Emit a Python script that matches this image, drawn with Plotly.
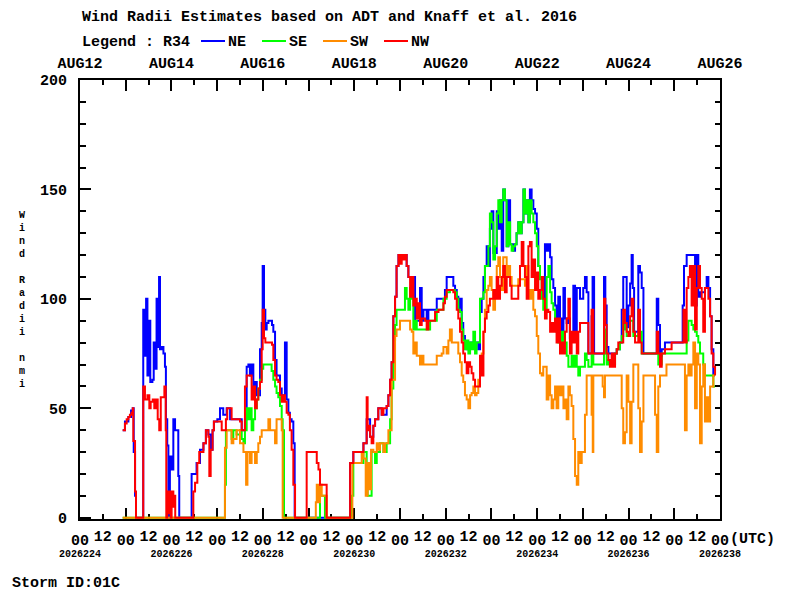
import plotly.graph_objects as go

# R34 wind radii (nmi), hours after 2026-08-12 00 UTC
NE = [(22.4,40),(23.6,44),(25.4,46),(26.8,49),(27.7,50),(28.2,30),(28.9,10),(29.4,0),
      (33.2,95),(34.0,74),(34.7,100),(35.4,65),(36.2,90),(36.9,62),(38.0,63),(38.7,80),(39.4,68),
      (40.2,100),(41.0,78),(41.5,110),(42.0,77),(42.9,78),(43.8,75),(44.6,69),(45.1,45),(45.8,33),
      (46.4,0),(47.2,28),(48.1,22),(49.0,45),(49.9,40),(51.6,19),(52.1,0),
      (58.6,20),(61.2,25),(63.0,31),(64.8,34),(66.1,40),(67.4,38),(68.6,31),(69.6,40),(70.3,44),
      (72.1,45),(73.5,50),(75.2,47),(77.0,50),(78.8,45),(84.9,40),(86.6,45),(87.5,69),(88.4,70),
      (89.2,65),(90.1,70),(91.0,55),(91.9,62),(92.8,56),(94.5,77),(95.4,89),(95.9,115),(96.6,95),
      (97.3,86),(98.0,89),(98.9,90),(100.8,88),(101.5,85),(102.4,72),(103.2,65),(105.0,59),
      (105.9,56),(107.6,80),(108.5,54),(109.4,48),(110.2,45),(111.1,44),(112.0,34),(112.7,0),
      (141.8,25),(143.5,30),(148.8,34),(150.5,45),(152.3,37),(154.0,42),(154.9,45),(156.6,50),
      (158.4,47),(161.0,51),(161.9,56),(162.8,63),(163.6,71),(164.5,92),(165.4,101),(166.2,115),
      (167.2,120),(171.5,115),(172.4,110),(175.0,110),(175.9,90),(178.5,105),(179.4,90),(180.3,95),
      (182.0,90),(182.9,95),(187.3,100),(191.6,104),(192.5,110),(196.0,106),(196.9,104),(197.8,101),
      (198.6,95),(199.5,100),(200.4,89),(201.2,83),(202.1,80),(203.0,77),(204.8,80),(209.1,77),
      (210.0,94),(210.9,100),(211.8,110),(212.6,115),(213.5,124),(214.4,115),(215.2,132),(216.1,140),
      (217.0,121),(218.8,140),(219.6,132),(220.5,145),(221.4,122),(222.2,150),(223.1,145),(224.0,124),
      (224.9,145),(225.8,125),(227.5,122),(228.4,125),(229.2,130),(230.1,135),(231.0,130),(231.9,135),
      (232.8,150),(233.6,139),(234.5,145),(235.4,135),(236.2,150),(237.1,145),(238.0,141),(238.9,139),
      (239.8,132),(240.6,115),(241.5,110),(243.2,100),(244.1,125),(245.0,122),(245.9,125),(246.8,119),
      (247.6,109),(248.5,105),(249.4,97),(250.2,91),(251.1,101),(252.0,91),(252.9,85),(253.8,105),
      (254.6,91),(255.5,89),(256.4,91),(257.2,82),(259.0,106),(259.9,82),(260.8,105),(262.5,100),
      (264.2,105),(265.1,110),(266.0,103),(266.9,75),(268.6,92),(269.1,110),(269.9,75),(275.1,110),
      (275.8,97),(276.5,78),(277.4,75),(281.8,77),(283.5,80),(284.4,95),(285.2,110),(287.0,87),
      (287.9,97),(288.8,107),(289.6,120),(290.2,105),(290.9,85),(293.1,115),(294.0,112),(294.9,105),
      (295.8,75),(302.8,100),(303.6,88),(304.5,74),(305.4,77),(307.1,80),(316.4,97),(317.1,115),
      (318.5,120),(322.0,120),(322.9,97),(323.8,120),(324.6,101),(325.5,103),(328.1,105),(329.0,110),
      (329.9,105),(330.8,92),(331.6,77),(332.5,65),(333.4,65)]

SE = [(22.4,0),(76.1,15),(76.6,40),(79.6,36),(80.5,40),(82.2,38),(84.0,40),(84.9,36),(85.8,34),
      (86.6,40),(87.5,50),(88.4,45),(89.2,50),(90.1,40),(91.0,45),(91.9,50),(92.8,54),(93.6,59),
      (94.5,63),(95.4,68),(96.2,70),(100.6,67),(101.5,63),(102.4,60),(103.2,57),(104.1,55),(105.0,51),
      (105.9,45),(106.4,40),(107.1,0),(126.0,10),(128.6,0),
      (142.6,10),(143.5,25),(148.8,30),(150.5,25),(151.0,10),(153.1,30),(154.9,25),(155.8,30),
      (157.5,34),(159.3,30),(161.0,34),(162.8,45),(163.6,59),(164.5,81),(165.4,88),(166.2,95),
      (170.6,105),(171.5,100),(172.4,95),(173.3,105),(174.2,100),(175.0,86),(175.9,90),(176.8,86),
      (183.8,90),(187.3,95),(190.8,100),(192.5,103),(194.2,104),(196.9,103),(197.8,100),(198.6,95),
      (199.5,94),(200.4,86),(201.2,81),(202.1,77),(203.0,81),(203.9,75),(204.8,80),(205.6,77),
      (206.5,85),(207.4,75),(208.2,80),(210.0,100),(211.8,103),(212.6,115),(214.4,124),(215.2,139),
      (216.1,135),(217.0,118),(217.9,124),(218.8,139),(219.6,145),(220.5,135),(221.4,145),(222.2,150),
      (223.1,145),(224.0,124),(224.9,135),(225.8,125),(226.6,122),(227.5,124),(228.4,125),(229.2,130),
      (230.1,135),(231.0,130),(231.9,135),(232.8,150),(233.6,139),(234.5,145),(235.4,135),(236.2,145),
      (237.1,139),(238.0,135),(238.9,130),(239.8,124),(240.6,115),(241.5,109),(242.4,100),(243.2,95),
      (245.0,110),(245.9,115),(246.8,103),(247.6,98),(248.5,95),(249.4,86),(250.2,85),(251.1,80),
      (252.0,85),(252.9,80),(253.8,85),(254.6,80),(255.5,74),(256.4,69),(258.1,74),(259.0,69),
      (259.9,74),(260.8,69),(261.6,65),(262.5,69),(265.1,75),(266.0,72),(266.9,69),(268.6,75),
      (269.5,70),(275.1,86),(275.8,75),(276.5,70),(277.4,72),(278.2,70),(280.9,75),(281.8,77),
      (283.5,80),(284.4,83),(285.2,90),(286.1,86),(287.0,83),(288.8,90),(290.5,83),(293.1,84),
      (294.0,85),(294.9,75),(302.8,75),(303.6,70),(305.4,75),(317.6,75),(318.5,81),(319.4,90),
      (320.2,90),(321.1,88),(322.0,86),(322.9,85),(323.8,83),(324.6,80),(325.5,75),(327.2,70),
      (328.1,65),(332.5,60),(333.4,60)]

SW = [(22.4,0),(76.1,32),(77.0,40),(79.6,34),(80.5,36),(82.2,40),(84.0,34),(85.8,30),(87.2,15),
      (87.9,30),(89.2,25),(90.1,30),(91.9,25),(92.8,30),(93.6,34),(94.5,37),(95.4,40),(98.9,45),
      (99.8,40),(102.4,34),(103.2,45),(105.9,40),(106.4,0),
      (123.8,7),(124.3,15),(125.2,7),(126.0,15),(126.9,10),(129.5,0),
      (143.0,25),(147.9,30),(148.8,27),(150.0,10),(151.0,25),(151.8,13),(152.8,31),(154.0,30),
      (155.8,34),(156.6,31),(157.5,34),(159.3,30),(160.2,34),(161.9,40),(163.6,63),(165.4,83),
      (166.2,86),(168.0,90),(173.3,86),(174.2,85),(175.0,75),(175.9,80),(176.8,74),(178.5,70),
      (179.4,74),(180.3,70),(187.3,74),(189.9,75),(190.8,78),(192.5,75),(193.4,81),(194.2,86),
      (195.2,80),(198.6,75),(199.5,71),(200.4,65),(201.2,62),(202.1,56),(203.0,54),(203.9,50),
      (204.8,56),(205.6,57),(206.5,60),(207.4,56),(208.2,57),(209.1,63),(210.0,72),(210.9,75),
      (211.8,85),(212.6,95),(213.5,104),(214.4,106),(215.2,110),(216.1,104),(217.0,95),(217.9,104),
      (218.8,115),(219.6,119),(220.5,110),(221.4,104),(222.2,119),(224.0,110),(224.9,115),(225.8,110),
      (226.6,106),(230.1,109),(233.6,106),(234.5,115),(235.4,104),(236.2,100),(237.1,104),(238.0,95),
      (238.9,92),(239.8,83),(240.6,75),(241.5,66),(242.4,65),(243.2,69),(245.0,54),(245.9,65),
      (246.8,56),(247.6,50),(248.5,54),(249.4,60),(250.2,50),(251.1,60),(252.0,56),(252.9,60),
      (253.8,50),(254.6,54),(255.5,45),(256.4,60),(257.2,56),(258.1,51),(259.0,36),(259.9,19),
      (260.8,15),(261.6,30),(262.5,25),(263.4,30),(265.1,47),(266.0,65),(268.6,47),(269.2,30),
      (269.5,65),(274.4,60),(275.1,55),(275.6,65),(284.4,50),(285.2,34),(286.1,39),(287.0,65),
      (287.9,53),(288.8,34),(289.6,53),(290.5,70),(293.1,50),(294.0,30),(294.9,44),(295.8,65),
      (301.9,47),(302.8,30),(303.6,60),(304.5,65),(307.9,70),(317.6,40),(318.5,65),(319.4,70),
      (320.2,65),(321.1,70),(322.0,80),(322.9,50),(323.8,75),(324.6,70),(325.5,34),(326.4,60),
      (327.2,70),(328.1,44),(329.0,55),(329.9,44),(330.8,60),(332.5,65),(333.4,65)]

NW = [(22.4,40),(23.6,43),(24.5,45),(25.4,46),(26.2,47),(27.1,48),(27.7,50),(28.0,35),(28.9,12),
      (29.4,0),(33.2,60),(34.1,54),(35.4,56),(36.4,50),(37.1,53),(38.2,54),(39.0,50),(39.9,54),
      (40.8,45),(41.6,40),(42.4,55),(43.4,55),(44.3,60),(45.0,40),(45.3,0),(45.8,12),(46.4,2),
      (46.9,12),(47.6,0),(48.1,12),(49.0,5),(49.5,10),(50.0,0),
      (59.5,12),(60.4,16),(61.6,25),(62.6,30),(64.8,34),(66.1,40),(67.4,37),(67.9,19),(68.6,31),
      (69.6,40),(70.3,44),(74.4,40),(76.6,45),(77.3,50),(79.6,45),(84.0,44),(84.9,40),(86.6,60),
      (87.5,65),(90.1,54),(91.0,60),(91.9,50),(92.8,54),(93.6,59),(94.5,62),(95.4,77),(95.9,95),
      (96.6,82),(97.3,80),(100.8,79),(101.5,72),(102.4,65),(103.2,63),(104.1,62),(105.0,56),
      (105.9,53),(106.8,56),(107.6,53),(108.5,48),(109.4,47),(110.2,40),(111.1,31),(112.0,15),
      (112.9,0),(119.0,30),(123.4,30),(124.3,25),(125.2,22),(126.0,15),(129.5,0),
      (141.8,25),(143.5,30),(148.8,34),(150.5,55),(151.0,40),(151.4,42),(152.3,37),(153.1,34),
      (154.0,42),(154.9,45),(156.6,50),(158.4,47),(159.3,50),(161.0,51),(161.9,56),(162.8,63),
      (163.6,71),(164.5,92),(165.4,101),(166.2,115),(167.2,120),(168.2,116),(168.9,120),(169.8,118),
      (170.6,120),(171.5,115),(172.4,110),(173.3,101),(174.2,110),(175.0,97),(175.9,100),(176.8,91),
      (177.6,98),(178.5,88),(179.4,91),(181.2,90),(182.0,86),(182.9,90),(186.4,94),(188.2,95),
      (190.8,98),(191.6,101),(192.5,104),(196.0,103),(196.9,100),(197.8,95),(198.6,91),(199.5,85),
      (200.4,80),(201.2,75),(202.1,71),(203.0,66),(203.9,71),(204.8,69),(205.6,66),(206.5,63),
      (207.4,60),(210.0,74),(210.9,65),(211.8,85),(212.6,91),(213.5,94),(214.4,97),(215.2,100),
      (217.0,104),(217.9,100),(218.8,110),(219.6,100),(220.5,106),(221.4,110),(222.2,115),(223.1,103),
      (224.0,110),(225.8,106),(226.6,100),(230.1,106),(231.0,115),(231.9,126),(232.8,115),(233.6,110),
      (234.5,100),(235.4,124),(236.2,126),(237.1,110),(238.0,118),(238.9,104),(239.8,112),(240.6,100),
      (241.5,104),(242.4,110),(243.2,100),(244.1,91),(245.0,95),(245.9,94),(246.8,85),(247.6,89),
      (248.5,85),(249.4,91),(250.2,80),(251.1,91),(252.0,75),(252.9,80),(253.8,75),(254.6,85),
      (255.5,91),(256.4,100),(257.2,75),(258.1,85),(259.0,80),(259.9,85),(260.8,75),(261.6,85),
      (262.5,89),(266.9,75),(268.6,95),(269.5,75),(275.1,100),(275.8,88),(276.5,75),(277.4,72),
      (278.2,69),(279.1,75),(280.0,69),(280.9,75),(281.8,77),(282.6,80),(285.2,95),(286.1,89),
      (287.0,85),(287.9,83),(288.8,92),(289.6,100),(290.5,85),(291.4,80),(293.1,95),(294.0,80),
      (294.9,75),(302.8,85),(303.6,75),(304.5,69),(305.4,75),(307.1,77),(310.6,80),(316.8,95),
      (317.6,80),(318.5,105),(319.4,110),(320.2,115),(321.1,97),(322.0,115),(322.9,86),(323.8,105),
      (324.6,115),(325.5,105),(326.4,100),(327.2,85),(328.1,105),(329.9,100),(330.8,92),(331.6,75),
      (332.5,69),(333.4,65)]

series = [("NE", NE, "#0000ff"), ("SE", SE, "#00ff00"), ("SW", SW, "#ff8c00"), ("NW", NW, "#ff0000")]

days = list(range(0, 337, 24))
halfdays = list(range(12, 337, 24))
month_labels = ["AUG%d" % (12 + i) if i % 2 == 0 else "" for i in range(15)]
julian_labels = ["<b>%d</b>" % (2026224 + i) for i in range(0, 15, 2)]

FONT = "Liberation Mono"


def xp(px):
    return (px - 80) / 640.0


def yp(py):
    return (519 - py) / 439.0


fig = go.Figure()
for name, pts, col in series:
    t, r = zip(*pts)
    fig.add_trace(go.Scatter(x=t, y=r, mode="lines", name=name, line_shape="hv",
                             line=dict(color=col, width=2), showlegend=False))

# empty traces so the extra tick axes get drawn
for xa, ya in [("x2", "y"), ("x3", "y"), ("x4", "y"), ("x", "y2")]:
    fig.add_trace(go.Scatter(x=[], y=[], xaxis=xa, yaxis=ya, showlegend=False, hoverinfo="skip"))

ax = dict(range=[0, 336], showgrid=False, zeroline=False, tickcolor="black", tickwidth=2,
          tickfont=dict(family=FONT, size=15, color="black"))
yr = [-0.6, 200]
fig.update_layout(
    width=800, height=600, margin=dict(l=80, r=80, t=80, b=81),
    paper_bgcolor="white", plot_bgcolor="white",
    xaxis=dict(ax, tickmode="array", tickvals=days, ticktext=["<b>00</b>"] * 15,
               ticks="inside", ticklen=11, showline=True, linewidth=2, linecolor="black",
               layer="below traces", ticklabelstandoff=6,
               minor=dict(tickvals=halfdays, ticks="inside", ticklen=5, tickwidth=2, tickcolor="black")),
    xaxis2=dict(ax, overlaying="x", anchor="y", side="bottom", tickmode="array", tickvals=halfdays,
                ticktext=["<b>12</b>"] * 14, ticks="", showline=False, ticklabelstandoff=6),
    xaxis3=dict(ax, overlaying="x", anchor="y", side="bottom", tickmode="array",
                tickvals=days[::2], ticktext=julian_labels, ticks="", showline=False,
                tickfont=dict(family=FONT, size=10, color="black"), ticklabelstandoff=27),
    xaxis4=dict(ax, overlaying="x", anchor="y", side="top", tickmode="array", tickvals=days,
                ticktext=["<b>%s</b>" % s if s else "" for s in month_labels],
                ticks="inside", ticklen=11, showline=True, linewidth=2, linecolor="black",
                ticklabelstandoff=4,
                minor=dict(tickvals=halfdays, ticks="inside", ticklen=5, tickwidth=2, tickcolor="black")),
    yaxis=dict(range=yr, tickmode="array", tickvals=[0, 50, 100, 150, 200],
               ticktext=["<b>%d</b>" % v for v in [0, 50, 100, 150, 200]],
               ticks="inside", ticklen=11, tickwidth=2, tickcolor="black",
               showline=True, linewidth=2, linecolor="black", showgrid=False, zeroline=False,
               tickfont=dict(family=FONT, size=15, color="black"), ticklabelstandoff=8,
               minor=dict(tickvals=[v for v in range(10, 200, 10) if v % 50], ticks="inside",
                          ticklen=6, tickwidth=2, tickcolor="black")),
    yaxis2=dict(range=yr, overlaying="y", anchor="x", side="right", tickmode="array",
                tickvals=list(range(10, 200, 10)), ticks="inside", ticklen=5, tickwidth=2,
                tickcolor="black", showticklabels=False, showline=True, linewidth=2,
                linecolor="black", showgrid=False, zeroline=False),
)

fig.add_annotation(x=xp(80), y=yp(17), xref="paper", yref="paper", xanchor="left", yanchor="middle",
                   text="<b>Wind Radii Estimates based on ADT and Knaff et al. 2016</b>", showarrow=False,
                   font=dict(family=FONT, size=15, color="black"))
fig.add_annotation(x=xp(80), y=yp(42), xref="paper", yref="paper", xanchor="left", yanchor="middle",
                   text="<b>Legend : R34</b>", showarrow=False, font=dict(family=FONT, size=15, color="black"))
for i, (name, pts, col) in enumerate(series):
    x0 = 201 + 61 * i
    fig.add_shape(type="line", xref="paper", yref="paper", x0=xp(x0), x1=xp(x0 + 24),
                  y0=yp(41), y1=yp(41), line=dict(color=col, width=2))
    fig.add_annotation(x=xp(x0 + 25), y=yp(42), xref="paper", yref="paper", xanchor="left",
                       yanchor="middle", text="<b>%s</b>" % name, showarrow=False,
                       font=dict(family=FONT, size=15, color="black"))

fig.add_annotation(x=336, y=0, xref="x", yref="paper", xanchor="left", yanchor="top",
                   xshift=8, yshift=-10, text="<b>(UTC)</b>", showarrow=False,
                   font=dict(family=FONT, size=15, color="black"))
fig.add_annotation(x=xp(10), y=yp(583), xref="paper", yref="paper", xanchor="left", yanchor="middle",
                   text="<b>Storm ID:01C</b>", showarrow=False, font=dict(family=FONT, size=15, color="black"))

# stacked y-axis title, one letter per line
ytitle = "<br>".join(list("Wind") + ["&nbsp;"] + list("Radii") + ["&nbsp;"] + list("nmi"))
fig.add_annotation(x=xp(22), y=yp(299.5), xref="paper", yref="paper", xanchor="center", yanchor="middle",
                   text="<b>%s</b>" % ytitle, showarrow=False, align="center",
                   font=dict(family=FONT, size=10, color="black"))

fig.write_html("out.html", config={"displayModeBar": False},
               post_script="document.body.style.margin='0px';")
